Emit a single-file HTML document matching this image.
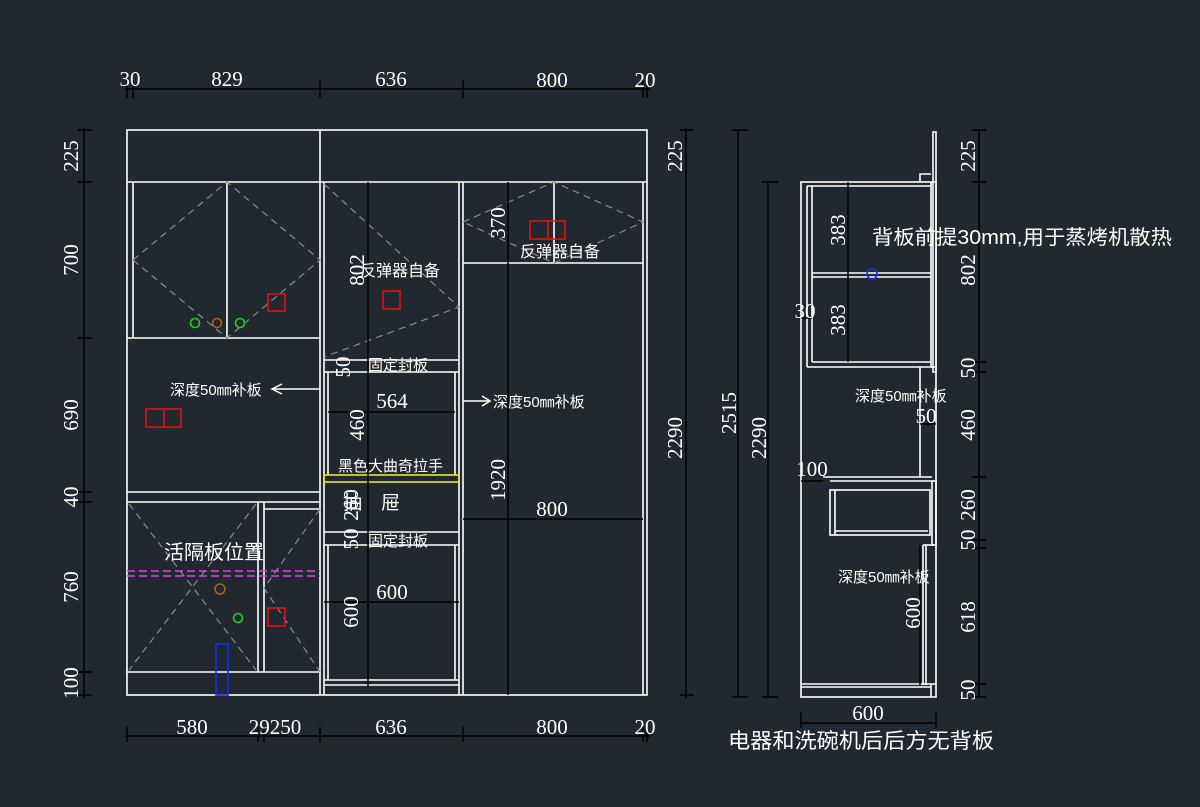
<!DOCTYPE html>
<html><head><meta charset="utf-8"><style>
html,body{margin:0;padding:0;background:#212830;}
svg{display:block}
text{fill:#fff;}
.n{font-family:"Liberation Serif","DejaVu Serif",serif;font-size:21px;}
.c{font-family:"Liberation Sans","Noto Sans CJK SC",sans-serif;font-size:16px;}
</style></head><body>
<svg width="1200" height="807" viewBox="0 0 1200 807" xmlns="http://www.w3.org/2000/svg">
<rect width="1200" height="807" fill="#212830"/>
<g stroke="#fff" stroke-width="1.6" fill="none">
<rect x="127" y="130" width="520" height="565"/>
<line x1="127" y1="182" x2="647" y2="182"/>
<line x1="320" y1="130" x2="320" y2="695"/>
<line x1="133" y1="182" x2="133" y2="338"/>
<line x1="227" y1="182" x2="227" y2="338"/>
<line x1="127" y1="338" x2="320" y2="338"/>
<line x1="127" y1="492" x2="320" y2="492"/>
<line x1="127" y1="502" x2="320" y2="502"/>
<line x1="258" y1="502" x2="258" y2="672"/>
<line x1="264" y1="502" x2="264" y2="672"/>
<line x1="264" y1="509" x2="320" y2="509"/>
<line x1="127" y1="672" x2="320" y2="672"/>
<line x1="324" y1="182" x2="324" y2="695"/>
<line x1="459" y1="182" x2="459" y2="695"/>
<line x1="463" y1="182" x2="463" y2="695"/>
<line x1="324" y1="360" x2="459" y2="360"/>
<line x1="324" y1="372" x2="459" y2="372"/>
<line x1="328" y1="372" x2="328" y2="475"/>
<line x1="455" y1="372" x2="455" y2="475"/>
<line x1="324" y1="532" x2="459" y2="532"/>
<line x1="324" y1="545" x2="459" y2="545"/>
<line x1="328" y1="545" x2="328" y2="680"/>
<line x1="455" y1="545" x2="455" y2="680"/>
<line x1="324" y1="680" x2="459" y2="680"/>
<line x1="324" y1="685" x2="459" y2="685"/>
<line x1="643" y1="182" x2="643" y2="695"/>
<line x1="463" y1="263" x2="643" y2="263"/>
<line x1="554" y1="182" x2="554" y2="263"/>
<rect x="801" y="182" width="135" height="515"/>
<line x1="807" y1="186" x2="807" y2="367"/>
<line x1="812" y1="186" x2="812" y2="362"/>
<line x1="807" y1="186" x2="931" y2="186"/>
<line x1="931" y1="182" x2="931" y2="367"/>
<rect x="933" y="132" width="3" height="240"/>
<polyline points="920,182 920,174 931,174"/>
<line x1="812" y1="273" x2="931" y2="273"/>
<line x1="812" y1="277" x2="931" y2="277"/>
<line x1="812" y1="362" x2="931" y2="362"/>
<line x1="807" y1="367" x2="936" y2="367"/>
<line x1="920" y1="367" x2="920" y2="477"/>
<line x1="823" y1="477" x2="932" y2="477"/>
<line x1="823" y1="481" x2="932" y2="481"/>
<rect x="932" y="481" width="4" height="64"/>
<rect x="830" y="490" width="100" height="45"/>
<line x1="835" y1="490" x2="835" y2="535"/>
<line x1="835" y1="531" x2="928" y2="531"/>
<line x1="923" y1="545" x2="923" y2="685"/>
<line x1="926" y1="545" x2="926" y2="685"/>
<line x1="923" y1="545" x2="936" y2="545"/>
<line x1="801" y1="684" x2="936" y2="684"/>
<line x1="801" y1="687" x2="931" y2="687"/>
<line x1="931" y1="684" x2="931" y2="697"/>
</g>
<g stroke="#8a8a8a" stroke-width="1.2" fill="none" stroke-dasharray="7,5">
<polygon points="133,260 227,182 320,260 227,338"/>
<polyline points="324,184 459,307 324,357"/>
<polygon points="463,222 554,182 643,222 554,263"/>
<line x1="129" y1="504" x2="256" y2="670"/>
<line x1="256" y1="504" x2="129" y2="670"/>
<polyline points="320,509 264,588 320,672"/>
</g>
<g stroke="#e040e0" stroke-width="1.6" stroke-dasharray="8,4">
<line x1="127" y1="571" x2="320" y2="571"/><line x1="127" y1="576" x2="320" y2="576"/>
</g>
<rect x="324" y="475" width="135" height="7" fill="none" stroke="#e8e820" stroke-width="1.6"/>
<g fill="none" stroke-width="1.6">
<rect x="268" y="294" width="17" height="17" stroke="#e01010"/>
<rect x="383" y="291" width="17" height="18" stroke="#e01010"/>
<rect x="530" y="221" width="35" height="18" stroke="#e01010"/><line x1="548" y1="221" x2="548" y2="239" stroke="#e01010"/>
<rect x="146" y="409" width="35" height="18" stroke="#e01010"/><line x1="164" y1="409" x2="164" y2="427" stroke="#e01010"/>
<rect x="268" y="608" width="17" height="18" stroke="#e01010"/>
<circle cx="195" cy="323" r="4.5" stroke="#20d020"/>
<circle cx="240" cy="323" r="4.5" stroke="#20d020"/>
<circle cx="217" cy="323" r="4.5" stroke="#b06010"/>
<circle cx="220" cy="589" r="5" stroke="#b06010"/>
<circle cx="238" cy="618" r="4.5" stroke="#20d020"/>
<rect x="216" y="644" width="12" height="51" stroke="#1030f0"/>
<circle cx="872" cy="274" r="5" stroke="#1030f0"/>
</g>
<g stroke="#000" stroke-width="1.5">
<line x1="125" y1="89" x2="650" y2="89"/>
<line x1="127" y1="80" x2="127" y2="98"/><line x1="133" y1="80" x2="133" y2="98"/>
<line x1="320" y1="80" x2="320" y2="98"/><line x1="463" y1="80" x2="463" y2="98"/>
<line x1="643" y1="80" x2="643" y2="98"/><line x1="647" y1="80" x2="647" y2="98"/>
<line x1="125" y1="736" x2="650" y2="736"/>
<line x1="127" y1="727" x2="127" y2="742"/><line x1="258" y1="727" x2="258" y2="742"/><line x1="264" y1="727" x2="264" y2="742"/>
<line x1="320" y1="727" x2="320" y2="742"/><line x1="463" y1="727" x2="463" y2="742"/><line x1="643" y1="727" x2="643" y2="742"/><line x1="647" y1="727" x2="647" y2="742"/>
<line x1="84" y1="128" x2="84" y2="698"/>
<line x1="78" y1="130" x2="92" y2="130"/><line x1="78" y1="182" x2="92" y2="182"/><line x1="78" y1="338" x2="92" y2="338"/>
<line x1="78" y1="492" x2="92" y2="492"/><line x1="78" y1="502" x2="92" y2="502"/><line x1="78" y1="672" x2="92" y2="672"/><line x1="78" y1="695" x2="92" y2="695"/>
<line x1="686" y1="128" x2="686" y2="698"/><line x1="680" y1="130" x2="694" y2="130"/><line x1="680" y1="695" x2="694" y2="695"/>
<line x1="368" y1="182" x2="368" y2="688"/>
<line x1="508" y1="182" x2="508" y2="695"/>
<line x1="328" y1="412" x2="455" y2="412"/>
<line x1="463" y1="519" x2="643" y2="519"/>
<line x1="324" y1="602" x2="459" y2="602"/>
<line x1="738" y1="130" x2="738" y2="697"/><line x1="732" y1="130" x2="748" y2="130"/><line x1="732" y1="697" x2="748" y2="697"/>
<line x1="768" y1="182" x2="768" y2="697"/><line x1="762" y1="182" x2="778" y2="182"/><line x1="762" y1="697" x2="778" y2="697"/>
<line x1="848" y1="182" x2="848" y2="362"/>
<line x1="979" y1="130" x2="979" y2="697"/>
<line x1="972" y1="130" x2="986" y2="130"/><line x1="972" y1="182" x2="986" y2="182"/><line x1="972" y1="362" x2="986" y2="362"/><line x1="972" y1="372" x2="986" y2="372"/>
<line x1="972" y1="477" x2="986" y2="477"/><line x1="972" y1="540" x2="986" y2="540"/><line x1="972" y1="548" x2="986" y2="548"/><line x1="972" y1="684" x2="986" y2="684"/><line x1="972" y1="697" x2="986" y2="697"/>
<line x1="801" y1="723" x2="936" y2="723"/><line x1="801" y1="712" x2="801" y2="728"/><line x1="936" y1="712" x2="936" y2="728"/>
<line x1="801" y1="318" x2="812" y2="318"/><line x1="801" y1="481" x2="830" y2="481"/><line x1="920" y1="424" x2="936" y2="424"/>
<line x1="920" y1="545" x2="920" y2="685"/>
</g>
<g stroke="#fff" stroke-width="1.5" fill="none">
<line x1="272" y1="389" x2="320" y2="389"/><polyline points="282,384 272,389 282,394"/>
<line x1="463" y1="401" x2="490" y2="401"/><polyline points="482,396 490,401 482,406"/>
</g>
<g class="n" text-anchor="middle">
<text x="130" y="86">30</text><text x="227" y="86">829</text><text x="391" y="86">636</text><text x="552" y="87">800</text><text x="645" y="87">20</text>
<text x="192" y="734">580</text><text x="275" y="734">29250</text><text x="391" y="734">636</text><text x="552" y="734">800</text><text x="645" y="734">20</text>
<text x="392" y="408">564</text><text x="552" y="516">800</text><text x="392" y="599">600</text>
<text x="868" y="720">600</text>
<text x="805" y="318">30</text><text x="812" y="476">100</text><text x="926" y="423">50</text>
</g>
<g class="n" text-anchor="middle">
<text transform="translate(78,156) rotate(-90)">225</text>
<text transform="translate(78,260) rotate(-90)">700</text>
<text transform="translate(78,415) rotate(-90)">690</text>
<text transform="translate(78,497) rotate(-90)">40</text>
<text transform="translate(78,587) rotate(-90)">760</text>
<text transform="translate(78,683) rotate(-90)">100</text>
<text transform="translate(682,156) rotate(-90)">225</text>
<text transform="translate(682,438) rotate(-90)">2290</text>
<text transform="translate(364,270) rotate(-90)">802</text>
<text transform="translate(350,367) rotate(-90)">50</text>
<text transform="translate(364,425) rotate(-90)">460</text>
<text transform="translate(358,505) rotate(-90)">260</text>
<text transform="translate(358,539) rotate(-90)">50</text>
<text transform="translate(358,612) rotate(-90)">600</text>
<text transform="translate(505,223) rotate(-90)">370</text>
<text transform="translate(505,480) rotate(-90)">1920</text>
<text transform="translate(736,413) rotate(-90)">2515</text>
<text transform="translate(766,438) rotate(-90)">2290</text>
<text transform="translate(845,230) rotate(-90)">383</text>
<text transform="translate(845,320) rotate(-90)">383</text>
<text transform="translate(920,613) rotate(-90)">600</text>
<text transform="translate(975,156) rotate(-90)">225</text>
<text transform="translate(975,270) rotate(-90)">802</text>
<text transform="translate(975,368) rotate(-90)">50</text>
<text transform="translate(975,425) rotate(-90)">460</text>
<text transform="translate(975,505) rotate(-90)">260</text>
<text transform="translate(975,540) rotate(-90)">50</text>
<text transform="translate(975,617) rotate(-90)">618</text>
<text transform="translate(975,690) rotate(-90)">50</text>
</g>
<g class="c">
<text x="360" y="276">反弹器自备</text>
<text x="520" y="257">反弹器自备</text>
<text x="368" y="370" font-size="15">固定封板</text>
<text x="368" y="546" font-size="15">固定封板</text>
<text x="170" y="395" font-size="15">深度50㎜补板</text>
<text x="493" y="407" font-size="15">深度50㎜补板</text>
<text x="338" y="471" font-size="15">黑色大曲奇拉手</text>
<text x="343" y="509" font-size="19">抽　屉</text>
<text x="164" y="559" font-size="20">活隔板位置</text>
<text x="872" y="244" font-size="20" textLength="300" lengthAdjust="spacingAndGlyphs">背板前提30mm,用于蒸烤机散热</text>
<text x="855" y="401" font-size="15">深度50㎜补板</text>
<text x="838" y="582" font-size="15">深度50㎜补板</text>
<text x="728" y="748" font-size="21" textLength="266" lengthAdjust="spacingAndGlyphs">电器和洗碗机后后方无背板</text>
</g>
</svg>
</body></html>
